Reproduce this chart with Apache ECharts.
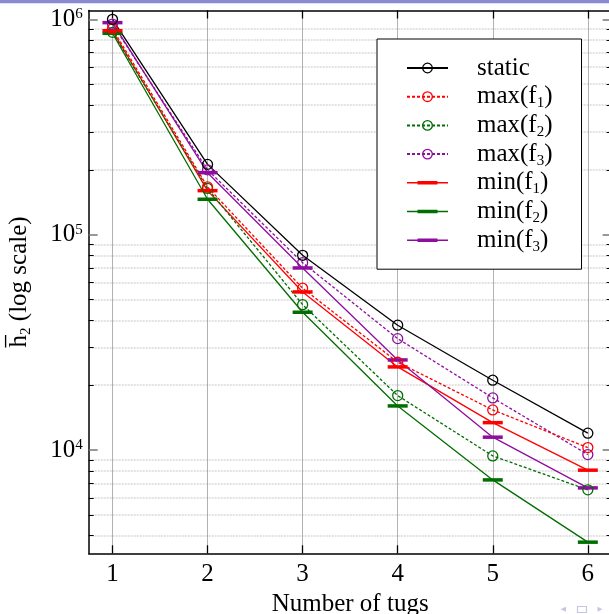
<!DOCTYPE html>
<html>
<head>
<meta charset="utf-8">
<script src="https://cdn.jsdelivr.net/npm/echarts@6/dist/echarts.min.js"></script>
<style>
  html, body { margin: 0; padding: 0; background: #fff; }
  #chart { width: 609px; height: 614px; }
</style>
</head>
<body>
<div id="chart"></div>
<script>
// Number of tugs on the x axis
const tugs = [1, 2, 3, 4, 5, 6];

// Mean h2 values per configuration
const staticH = [1000000, 212000, 80200, 37980, 21090, 11970];
const maxF1   = [905000, 166500, 56400, 25560, 15350, 10260];
const maxF2   = [870000, 164000, 47300, 17890, 9390, 6530];
const maxF3   = [950000, 200000, 74100, 32900, 17460, 9520];
const minF1   = [885000, 160100, 54200, 24310, 13400, 8060];
const minF2   = [861000, 146000, 43620, 16020, 7263, 3733];
const minF3   = [965000, 194000, 70040, 26200, 11470, 6670];

// Log axis ticks
const majorTicks = [1e4, 1e5, 1e6];
const minorTicks = [4000, 5000, 6000, 7000, 8000, 9000,
                    20000, 30000, 40000, 50000, 60000, 70000, 80000, 90000,
                    200000, 300000, 400000, 500000, 600000, 700000, 800000, 900000];

const FONT = 'Liberation Serif';
const RED = '#ff0000', GREEN = '#006e00', PURPLE = '#8e0e9e', BLACK = '#000000';

const Y_MIN = 3314, Y_MAX = 1098700;

const pairs = arr => tugs.map((x, i) => [x, arr[i]]);

function circleSeries(name, arr, color, dashed) {
  return {
    name, type: 'line', data: pairs(arr), xAxisIndex: 0, yAxisIndex: 0,
    symbol: 'circle', symbolSize: 10, showSymbol: true,
    lineStyle: { color, width: 1.3, type: dashed ? [3, 2] : 'solid' },
    itemStyle: { color: 'transparent', borderColor: color, borderWidth: 1.3 },
    emphasis: { disabled: true }
  };
}
function barSeries(name, arr, color) {
  return {
    name, type: 'line', data: pairs(arr), xAxisIndex: 0, yAxisIndex: 0,
    symbol: 'rect', symbolSize: [20, 3.5], showSymbol: true,
    lineStyle: { color, width: 1.3, type: 'solid' },
    itemStyle: { color, borderWidth: 0 },
    emphasis: { disabled: true }
  };
}

// legend glyph for the min series: thin line with a thick bar in the middle
const minIcon = 'path://M0,0L0,0M41,12L41,12M0,5.3L41,5.3L41,6.7L0,6.7ZM10.5,4.25L30.5,4.25L30.5,7.75L10.5,7.75Z';

const legendName = n => '{sp| }' + n.replace(/f(\d)/, 'f{s|$1}');

const yBase = { type: 'log', logBase: 10, min: Y_MIN, max: Y_MAX, gridIndex: 0 };

const option = {
  animation: false,
  backgroundColor: '#fff',
  textStyle: { fontFamily: FONT },
  grid: { left: 88.7, top: 10.5, width: 522.9, height: 542.8, outerBoundsMode: 'none', containLabel: false },
  xAxis: [
    {
      type: 'value', min: 0.75, max: 6.25, position: 'bottom',
      axisLine: { show: true, onZero: false, lineStyle: { color: '#000', width: 1.5 } },
      axisTick: { show: true, inside: true, length: 8, customValues: tugs, lineStyle: { color: '#000', width: 1.3 } },
      axisLabel: { customValues: tugs, margin: 8.5, fontFamily: FONT, fontSize: 25, color: '#000' },
      splitLine: { show: true, lineStyle: { type: 'dotted', color: '#666', width: 1 } },
      name: 'Number of tugs', nameLocation: 'middle', nameGap: 36,
      nameTextStyle: { fontFamily: FONT, fontSize: 25, color: '#000' }
    },
    {
      type: 'value', min: 0.75, max: 6.25, position: 'top',
      axisLine: { show: true, onZero: false, lineStyle: { color: '#000', width: 1.5 } },
      axisTick: { show: true, inside: true, length: 8, customValues: tugs, lineStyle: { color: '#000', width: 1.3 } },
      axisLabel: { show: false }, splitLine: { show: false }
    }
  ],
  yAxis: [
    Object.assign({}, yBase, {
      position: 'left',
      axisLine: { show: true, onZero: false, lineStyle: { color: '#000', width: 1.5 } },
      axisTick: { show: true, inside: true, length: 9, customValues: majorTicks, lineStyle: { color: '#777', width: 1.5 } },
      axisLabel: {
        customValues: majorTicks, margin: 6,
        formatter: v => '{b|10}{p|' + Math.round(Math.log10(v)) + '}',
        rich: {
          b: { fontFamily: FONT, fontSize: 25, lineHeight: 25, color: '#000' },
          p: { fontFamily: FONT, fontSize: 15, lineHeight: 15, color: '#000', verticalAlign: 'top' }
        }
      },
      splitLine: { show: false },
      name: '{h|h\u0305}{s|2}{t| (log scale)}', nameLocation: 'middle', nameGap: 55,
      nameTextStyle: {
        fontFamily: FONT, fontSize: 25, color: '#000',
        rich: {
          h: { fontFamily: FONT, fontSize: 25, lineHeight: 28, color: '#000' },
          s: { fontFamily: FONT, fontSize: 15, lineHeight: 15, color: '#000', verticalAlign: 'bottom' },
          t: { fontFamily: FONT, fontSize: 25, lineHeight: 28, color: '#000' }
        }
      }
    }),
    Object.assign({}, yBase, {
      position: 'left',
      axisLine: { show: false },
      axisTick: { show: true, inside: true, length: 5, customValues: minorTicks, lineStyle: { color: '#000', width: 1 } },
      axisLabel: { show: false },
      splitLine: { show: true, lineStyle: { type: [2, 1], color: '#d9d9d9', width: 1.5 } }
    }),
    Object.assign({}, yBase, {
      position: 'right',
      axisLine: { show: true, onZero: false, lineStyle: { color: '#000', width: 1.5 } },
      axisTick: { show: true, inside: true, length: 9, customValues: majorTicks, lineStyle: { color: '#777', width: 1.5 } },
      axisLabel: { show: false }, splitLine: { show: false }
    }),
    Object.assign({}, yBase, {
      position: 'right',
      axisLine: { show: false },
      axisTick: { show: true, inside: true, length: 5, customValues: minorTicks, lineStyle: { color: '#000', width: 1 } },
      axisLabel: { show: false }, splitLine: { show: false }
    })
  ],
  legend: {
    orient: 'vertical', left: 377, top: 39,
    padding: [15, 29, 15, 29], itemGap: 0.7,
    itemWidth: 41, itemHeight: 12,
    backgroundColor: '#fff', borderColor: '#000', borderWidth: 1,
    selectedMode: false,
    itemStyle: { borderWidth: 1.3 },
    formatter: legendName,
    textStyle: {
      fontFamily: FONT, fontSize: 25, lineHeight: 28, color: '#000',
      rich: {
        sp: { width: 24, fontSize: 25, lineHeight: 28 },
        s: { fontFamily: FONT, fontSize: 15, lineHeight: 15, color: '#000', verticalAlign: 'bottom' }
      }
    },
    data: [
      { name: 'static' },
      { name: 'max(f1)' },
      { name: 'max(f2)' },
      { name: 'max(f3)' },
      { name: 'min(f1)', icon: minIcon, itemStyle: { borderWidth: 0 } },
      { name: 'min(f2)', icon: minIcon, itemStyle: { borderWidth: 0 } },
      { name: 'min(f3)', icon: minIcon, itemStyle: { borderWidth: 0 } }
    ]
  },
  series: [
    barSeries('min(f2)', minF2, GREEN),
    barSeries('min(f1)', minF1, RED),
    barSeries('min(f3)', minF3, PURPLE),
    circleSeries('max(f2)', maxF2, GREEN, true),
    circleSeries('max(f3)', maxF3, PURPLE, true),
    circleSeries('max(f1)', maxF1, RED, true),
    circleSeries('static', staticH, BLACK, false)
  ],
  graphic: [
    { type: 'rect', left: 0, top: 0, shape: { width: 609, height: 3.3 }, style: { fill: '#8a8ad2' }, silent: true },
    { type: 'polygon', shape: { points: [[566, 606.7], [566, 611.7], [560.5, 609.2]] }, style: { fill: '#c5c5e5' }, silent: true },
    { type: 'rect', shape: { x: 577.5, y: 606.5, width: 9, height: 6 }, style: { fill: 'none', stroke: '#c5c5e5', lineWidth: 1.2 }, silent: true },
    { type: 'polygon', shape: { points: [[597.5, 606.7], [597.5, 611.7], [602.5, 609.2]] }, style: { fill: '#c5c5e5' }, silent: true }
  ]
};

const chart = echarts.init(document.getElementById('chart'), null, { renderer: 'canvas' });
chart.setOption(option);
</script>
</body>
</html>
